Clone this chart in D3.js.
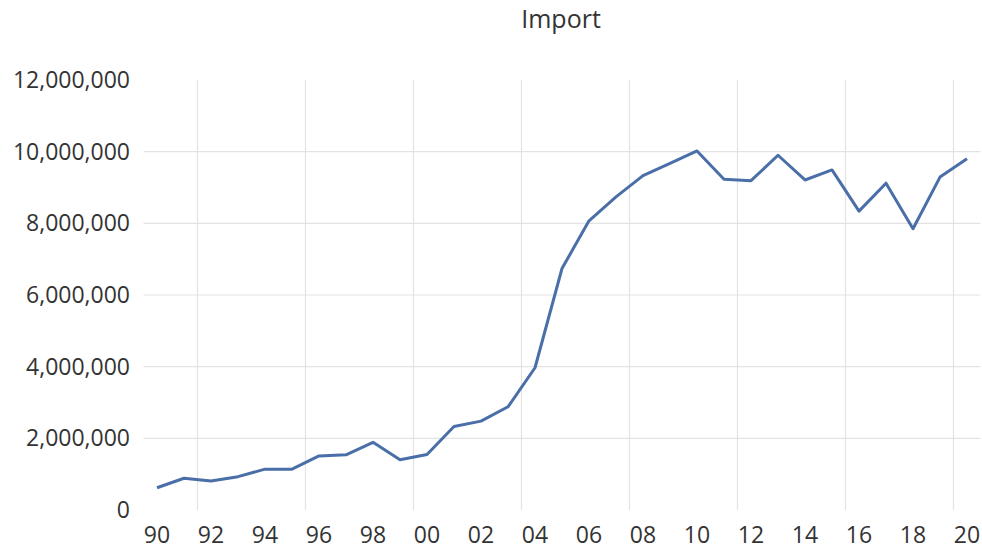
<!DOCTYPE html>
<html>
<head>
<meta charset="utf-8">
<script src="https://cdn.jsdelivr.net/npm/d3@7"></script>
<style>
  html, body { margin: 0; padding: 0; background: #fff; }
  svg { display: block; font-family: "Open Sans", "Noto Sans", sans-serif; }
</style>
</head>
<body>
<svg id="chart" width="982" height="549"></svg>
<script>
// Annual import volume, 1990–2020
const years = d3.range(1990, 2021);
const imports = [
  620000, 885000, 810000, 930000, 1140000, 1140000, 1510000, 1540000, 1890000, 1400000,
  1550000, 2330000, 2480000, 2880000, 3970000, 6740000, 8070000, 8740000, 9330000, 9670000,
  10020000, 9230000, 9190000, 9900000, 9210000, 9490000, 8340000, 9120000, 7850000, 9290000,
  9800000
];
const labelYears = d3.range(1990, 2021, 2);
const gridYears = [1992, 1996, 2000, 2004, 2008, 2012, 2016, 2020];
const yTicks = [0, 2000000, 4000000, 6000000, 8000000, 10000000, 12000000];
const yGrid = [2000000, 4000000, 6000000, 8000000, 10000000];
const title = "Import";

const svg = d3.select("#chart");
const plot = { left: 143.5, right: 980.5, top: 80, bottom: 510 };
const textColor = "#333";
const gridColor = "#e3e3e3";

const x = d3.scaleBand().domain(years).range([plot.left, plot.right]).padding(0);
const y = d3.scaleLinear().domain([0, 12000000]).range([plot.bottom, plot.top]);
const cx = d => x(d) + x.bandwidth() / 2;

// gridlines
svg.append("g").selectAll("line").data(yGrid).join("line")
  .attr("x1", plot.left).attr("x2", plot.right)
  .attr("y1", d => y(d)).attr("y2", d => y(d))
  .attr("stroke", gridColor).attr("stroke-width", 1.2);

svg.append("g").selectAll("line").data(gridYears).join("line")
  .attr("x1", d => x(d)).attr("x2", d => x(d))
  .attr("y1", plot.top).attr("y2", plot.bottom)
  .attr("stroke", gridColor).attr("stroke-width", 1.2);

// y axis
const yAxis = svg.append("g")
  .attr("transform", `translate(${plot.left},0)`)
  .call(d3.axisLeft(y).tickValues(yTicks).tickFormat(d3.format(",")).tickSize(0).tickPadding(13.5));
yAxis.select(".domain").remove();
yAxis.selectAll("text").attr("font-size", 23).attr("fill", textColor)
  .attr("font-family", "'Open Sans', sans-serif");

// x axis
const xAxis = svg.append("g")
  .attr("transform", `translate(0,${plot.bottom})`)
  .call(d3.axisBottom(x).tickValues(labelYears).tickFormat(d => d3.format("02d")(d % 100)).tickSize(0).tickPadding(16.5));
xAxis.select(".domain").remove();
xAxis.selectAll("text").attr("font-size", 23).attr("fill", textColor)
  .attr("font-family", "'Open Sans', sans-serif");

// series line
const line = d3.line().x((d, i) => cx(years[i])).y(d => y(d));
svg.append("path")
  .datum(imports)
  .attr("d", line)
  .attr("fill", "none")
  .attr("stroke", "#4a6fa8")
  .attr("stroke-width", 3)
  .attr("stroke-linejoin", "round");

// title
svg.append("text")
  .attr("x", 561).attr("y", 28)
  .attr("text-anchor", "middle")
  .attr("font-size", 25)
  .attr("fill", textColor)
  .text(title);
</script>
</body>
</html>
